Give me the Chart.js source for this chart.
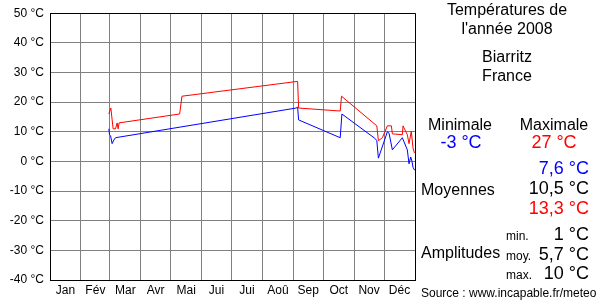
<!DOCTYPE html>
<html>
<head>
<meta charset="utf-8">
<script src="https://cdn.jsdelivr.net/npm/chart.js@4"></script>
<style>
  html, body { margin: 0; padding: 0; background: #fff; }
  #wrap { position: relative; width: 600px; height: 300px; font-family: "Liberation Sans", Arial, sans-serif; }
  #wrap canvas { position: absolute; left: 0; top: 0; }
  .t { position: absolute; white-space: nowrap; line-height: 1; color: #000; }
  .c { transform: translateX(-50%); }
  .r { transform: translateX(-100%); }
  .lab { font-size: 16px; }
  .val { font-size: 18px; }
  .sm { font-size: 12px; }
  .blue { color: #0000ff; }
  .red { color: #ff0000; }
</style>
</head>
<body>
<div id="wrap">
  <canvas id="chart" width="600" height="300"></canvas>

  <div class="t lab c" style="left:507px; top:2px;">Températures de</div>
  <div class="t lab c" style="left:507px; top:21px;">l'année 2008</div>
  <div class="t lab c" style="left:507px; top:49px;">Biarritz</div>
  <div class="t lab c" style="left:507px; top:68px;">France</div>

  <div class="t lab c" style="left:460px; top:117px;">Minimale</div>
  <div class="t lab c" style="left:554px; top:117px;">Maximale</div>
  <div class="t val c blue" style="left:461px; top:133px;">-3 °C</div>
  <div class="t val c red" style="left:554px; top:133px;">27 °C</div>

  <div class="t val r blue" style="left:589px; top:159px;">7,6 °C</div>
  <div class="t lab" style="left:421px; top:182px;">Moyennes</div>
  <div class="t val r" style="left:589px; top:179px;">10,5 °C</div>
  <div class="t val r red" style="left:589px; top:199px;">13,3 °C</div>

  <div class="t sm" style="left:506px; top:230px;">min.</div>
  <div class="t val r" style="left:589px; top:225px;">1 °C</div>
  <div class="t lab" style="left:421px; top:245px;">Amplitudes</div>
  <div class="t sm" style="left:506px; top:250px;">moy.</div>
  <div class="t val r" style="left:589px; top:245px;">5,7 °C</div>
  <div class="t sm" style="left:506px; top:269px;">max.</div>
  <div class="t val r" style="left:589px; top:264px;">10 °C</div>

  <div class="t sm" style="left:421px; top:287px;">Source : www.incapable.fr/meteo</div>
</div>

<script>
// mois (noms + jour de début, 2008 bissextile)
const months = ['Jan', 'Fév', 'Mar', 'Avr', 'Mai', 'Jui', 'Jui', 'Aoû', 'Sep', 'Oct', 'Nov', 'Déc'];
const monthStarts = [0, 31, 60, 91, 121, 152, 182, 213, 244, 274, 305, 335, 366];

// maximales (jour de l'année, °C)
const maxDays = [59, 61, 63.3, 65.7, 67.3, 68.3, 69.3, 130, 132.3, 248.3, 249.3, 291, 292.3, 327.7, 329.3, 333.3, 338.3, 342.3, 343.3, 353.3, 354, 358.3, 360, 362.3, 364, 365.5];
const maxTemps = [16, 18, 11, 11, 13, 11, 13, 16, 22, 27, 18, 17, 22, 12, 7, 8, 12, 12, 9.3, 9, 12, 9, 6, 10.2, 4.5, 2.8];

// minimales
const minDays = [59, 59.7, 60.7, 62.3, 64, 65.7, 246.7, 248.3, 249.3, 291, 292.7, 325.7, 327.7, 329.3, 338.3, 340, 343.3, 353.3, 358.3, 360, 361.7, 363, 364, 365.7];
const minTemps = [11, 9, 8.7, 6, 7.2, 8, 18, 18.3, 14, 8, 16, 7.8, 7, 1.1, 10, 9.5, 3.9, 8, 3.9, -0.8, 1.5, 0, -2, -3];

const toPoints = (days, temps) => days.map((d, i) => ({ x: d, y: temps[i] }));

// ticks x : limites de mois (grille) + milieux de mois (étiquettes)
const xTicks = [];
monthStarts.forEach((d, i) => {
  xTicks.push({ value: d });
  if (i < months.length) xTicks.push({ value: (d + monthStarts[i + 1]) / 2 });
});

const GRAY = '#808080';

new Chart(document.getElementById('chart'), {
  type: 'line',
  data: {
    datasets: [
      { data: toPoints(maxDays, maxTemps), borderColor: '#ff0000', borderWidth: 1, pointRadius: 0, tension: 0 },
      { data: toPoints(minDays, minTemps), borderColor: '#0000ff', borderWidth: 1, pointRadius: 0, tension: 0 }
    ]
  },
  options: {
    responsive: false,
    animation: false,
    layout: { padding: { top: 10, right: 185, bottom: 0, left: 0 } },
    plugins: { legend: { display: false }, tooltip: { enabled: false } },
    scales: {
      x: {
        type: 'linear',
        min: 0,
        max: 366,
        afterBuildTicks: scale => { scale.ticks = xTicks.map(t => ({ value: t.value })); },
        afterFit: scale => { scale.height = 20; },
        grid: {
          drawTicks: false,
          color: ctx => (ctx.index % 2 === 1) ? 'rgba(0,0,0,0)' : (ctx.index === xTicks.length - 1 ? '#000' : GRAY)
        },
        border: { color: '#000', width: 1 },
        ticks: {
          autoSkip: false,
          maxRotation: 0,
          padding: 3,
          color: '#000',
          font: { family: 'Liberation Sans', size: 12 },
          callback: (v, i) => (i % 2 === 1) ? months[(i - 1) / 2] : ''
        }
      },
      y: {
        min: -40,
        max: 50,
        afterFit: scale => { scale.width = 50; },
        grid: {
          drawTicks: false,
          color: ctx => (ctx.tick && ctx.tick.value === 50) ? '#000' : GRAY
        },
        border: { color: '#000', width: 1 },
        ticks: {
          stepSize: 10,
          padding: 6,
          color: '#000',
          font: { family: 'Liberation Sans', size: 12 },
          callback: v => v + ' °C'
        }
      }
    }
  }
});
</script>
</body>
</html>
